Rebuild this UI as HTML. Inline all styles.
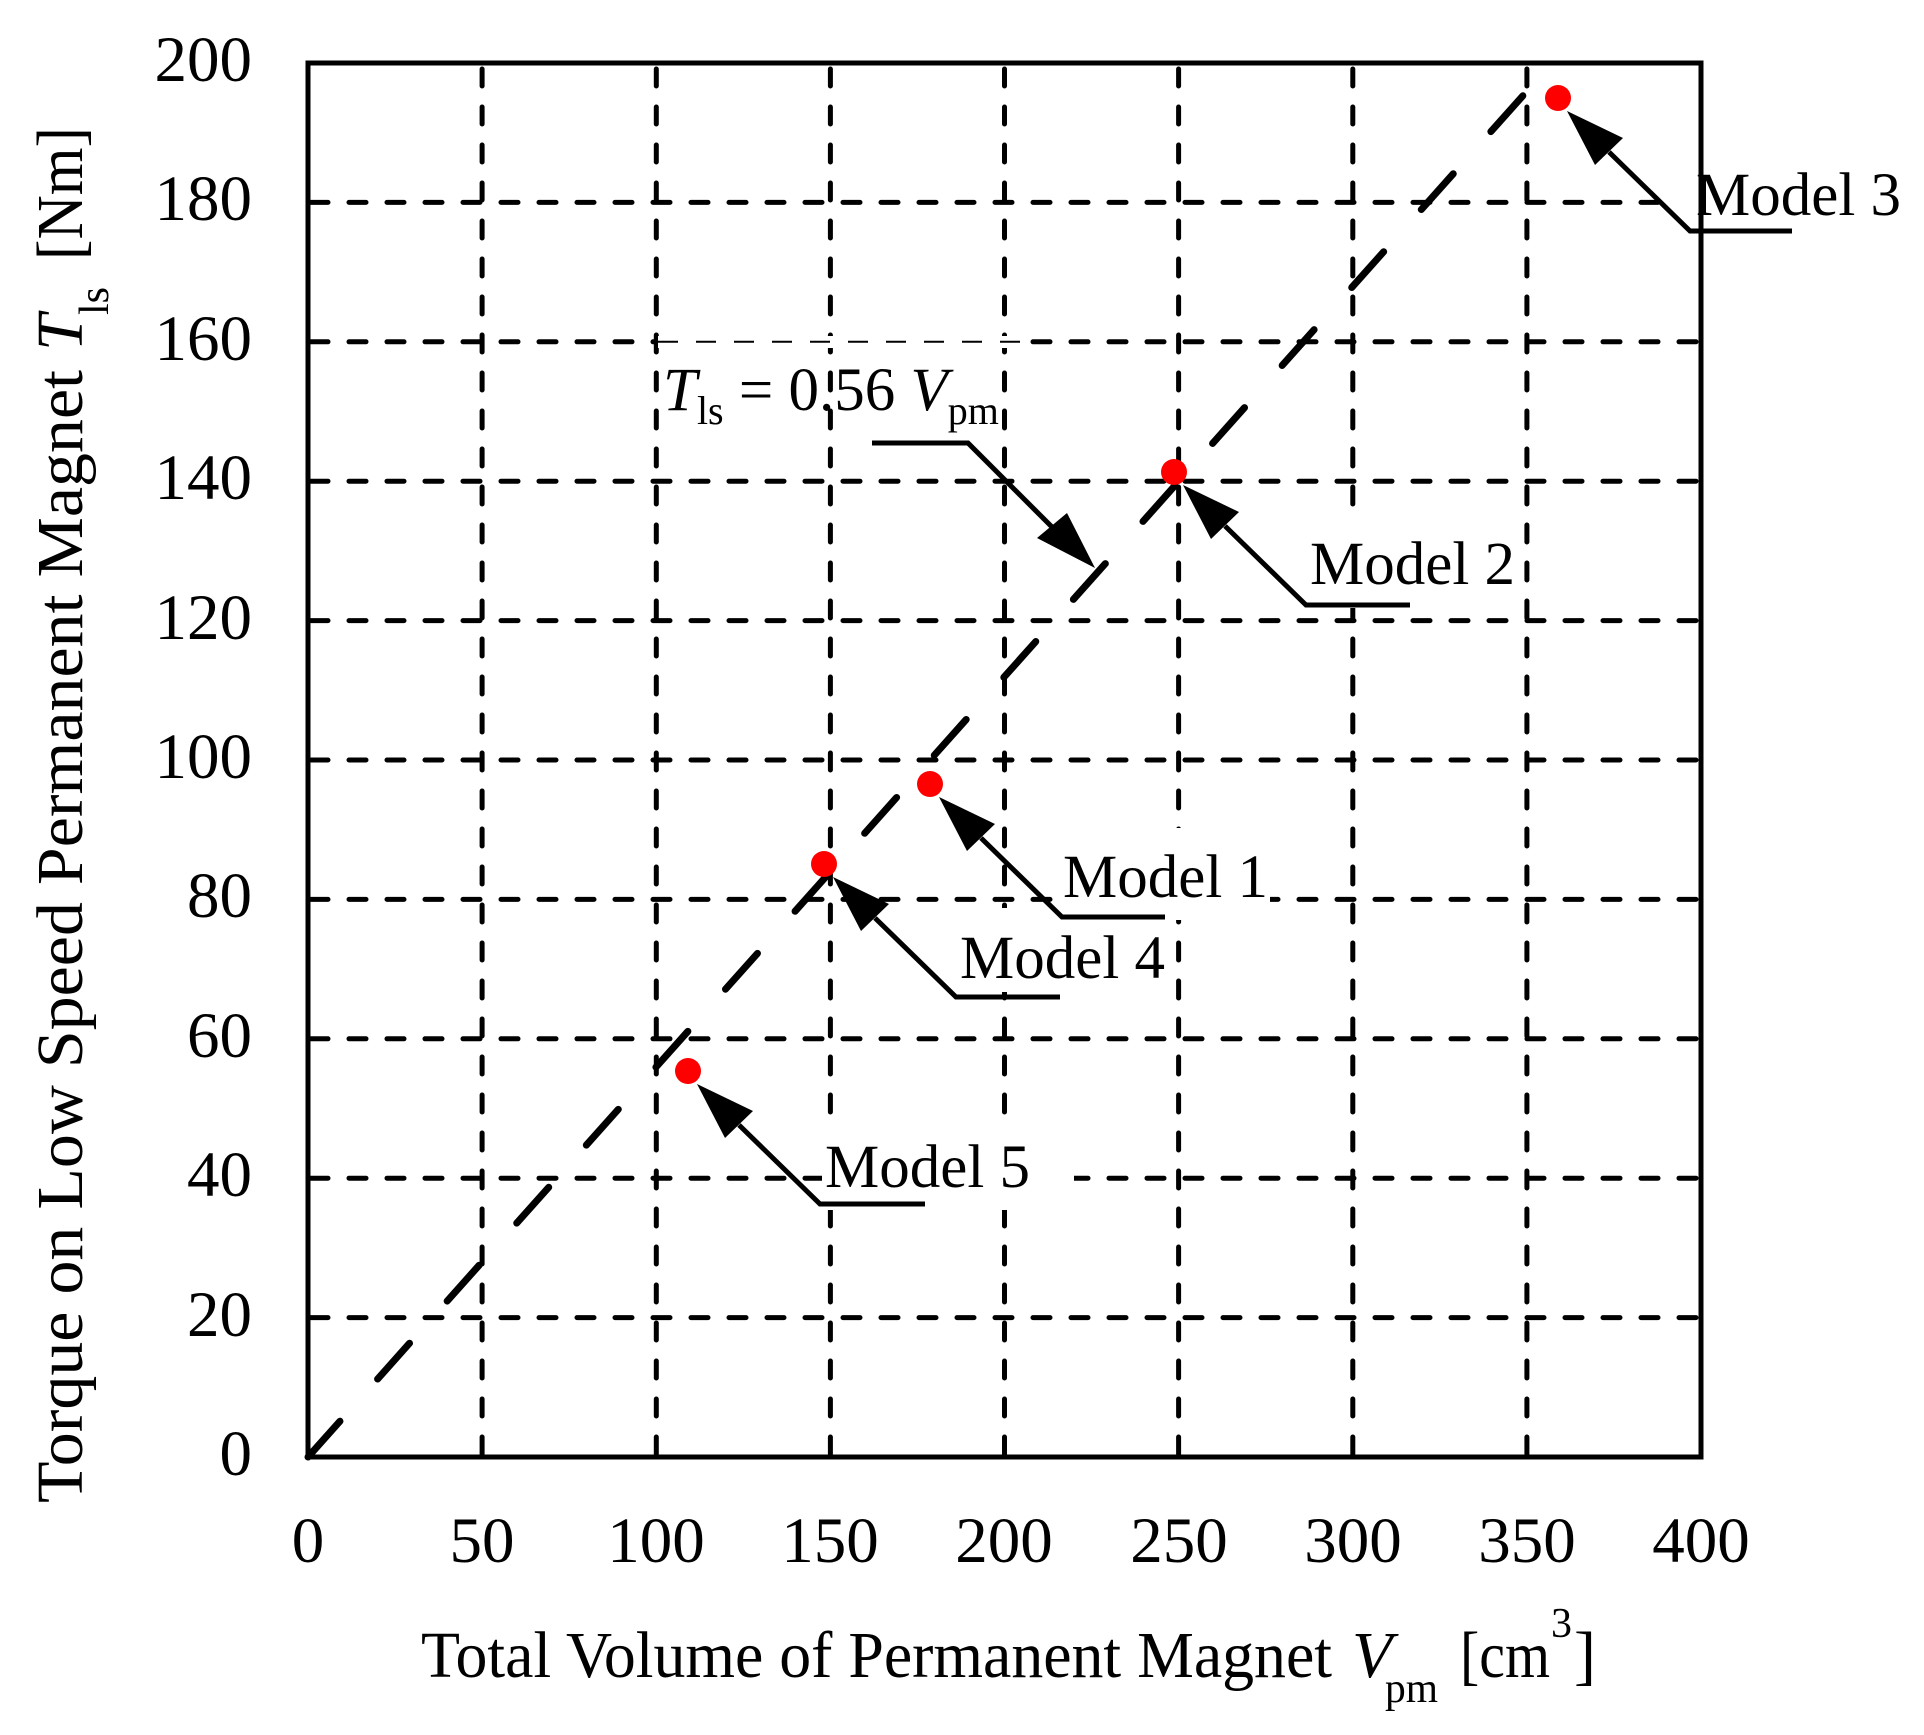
<!DOCTYPE html>
<html><head><meta charset="utf-8"><style>
html,body{margin:0;padding:0;background:#fff;}
svg{display:block;}
text{font-family:"Liberation Serif",serif;fill:#000;}
</style></head><body>
<svg width="1924" height="1735" viewBox="0 0 1924 1735" xmlns="http://www.w3.org/2000/svg">
<rect width="1924" height="1735" fill="#fff"/>
<!-- grid -->
<g stroke="#000" stroke-width="5" stroke-dasharray="17 21" stroke-linecap="round" stroke-dashoffset="-3">
<line x1="308" y1="1317.6" x2="1701" y2="1317.6"/>
<line x1="308" y1="1178.2" x2="1701" y2="1178.2"/>
<line x1="308" y1="1038.8" x2="1701" y2="1038.8"/>
<line x1="308" y1="899.4" x2="1701" y2="899.4"/>
<line x1="308" y1="760" x2="1701" y2="760"/>
<line x1="308" y1="620.6" x2="1701" y2="620.6"/>
<line x1="308" y1="481.2" x2="1701" y2="481.2"/>
<line x1="308" y1="341.8" x2="1701" y2="341.8"/>
<line x1="308" y1="202.4" x2="1701" y2="202.4"/>
<line x1="482.1" y1="1457" x2="482.1" y2="63"/>
<line x1="656.3" y1="1457" x2="656.3" y2="63"/>
<line x1="830.4" y1="1457" x2="830.4" y2="63"/>
<line x1="1004.5" y1="1457" x2="1004.5" y2="63"/>
<line x1="1178.6" y1="1457" x2="1178.6" y2="63"/>
<line x1="1352.8" y1="1457" x2="1352.8" y2="63"/>
<line x1="1526.9" y1="1457" x2="1526.9" y2="63"/>
</g>
<!-- thin part of 160 line -->
<rect x="658" y="336" width="362" height="12" fill="#fff"/>
<line x1="658" y1="341.8" x2="1020" y2="341.8" stroke="#000" stroke-width="2" stroke-dasharray="20 18"/>
<!-- regression line -->
<line x1="308" y1="1457" x2="1528" y2="90" stroke="#000" stroke-width="7" stroke-linecap="round" stroke-dasharray="48 56.5"/>
<!-- label white boxes -->
<g fill="#fff">
<rect x="1672" y="155" width="160" height="88"/>
<rect x="1306" y="520" width="210" height="88"/>
<rect x="1060" y="828" width="210" height="92"/>
<rect x="958" y="908" width="210" height="84"/>
<rect x="822" y="1118" width="252" height="92"/>
</g>
<!-- axes box -->
<rect x="308" y="63" width="1393" height="1394" fill="none" stroke="#000" stroke-width="5"/>
<!-- annotation arrows -->
<g stroke="#000" stroke-width="5" fill="none">
<polyline points="1609,152 1690,231 1792,231"/>
<polyline points="1225,526 1306,605 1410,605"/>
<polyline points="981,838 1062,917 1165,917"/>
<polyline points="875,918 956,997 1060,997"/>
<polyline points="739,1125 820,1204 925,1204"/>
<polyline points="872,443 968,443 1055,530"/>
</g>
<g fill="#000">
<polygon points="1567,111 1595,165 1623,138"/>
<polygon points="1183,485 1211,539 1239,512"/>
<polygon points="939,797 967,851 995,824"/>
<polygon points="833,877 861,931 889,904"/>
<polygon points="697,1084 725,1138 753,1111"/>
<polygon points="1095,568 1037,538 1067,513"/>
</g>
<!-- data points -->
<g fill="#f00">
<circle cx="1558" cy="98" r="13"/>
<circle cx="1174" cy="472" r="13"/>
<circle cx="930" cy="784" r="13"/>
<circle cx="824" cy="864" r="13"/>
<circle cx="688" cy="1071" r="13"/>
</g>
<!-- labels -->
<g font-size="61">
<text x="1696" y="215">Model 3</text>
<text x="1310" y="584">Model 2</text>
<text x="1063" y="897">Model 1</text>
<text x="960" y="978">Model 4</text>
<text x="825" y="1187">Model 5</text>
</g>
<text x="663" y="410" font-size="61"><tspan font-style="italic">T</tspan><tspan font-size="40" dy="14">ls</tspan><tspan dy="-14"> = 0.56 </tspan><tspan font-style="italic">V</tspan><tspan font-size="40" dy="14">pm</tspan></text>
<!-- tick labels -->
<g font-size="65" text-anchor="middle">
<text x="308" y="1562">0</text>
<text x="482" y="1562">50</text>
<text x="656" y="1562">100</text>
<text x="830" y="1562">150</text>
<text x="1004" y="1562">200</text>
<text x="1179" y="1562">250</text>
<text x="1353" y="1562">300</text>
<text x="1527" y="1562">350</text>
<text x="1701" y="1562">400</text>
</g>
<g font-size="65" text-anchor="end">
<text x="252" y="1475">0</text>
<text x="252" y="1336">20</text>
<text x="252" y="1196">40</text>
<text x="252" y="1057">60</text>
<text x="252" y="917">80</text>
<text x="252" y="778">100</text>
<text x="252" y="639">120</text>
<text x="252" y="499">140</text>
<text x="252" y="360">160</text>
<text x="252" y="220">180</text>
<text x="252" y="81">200</text>
</g>
<!-- x title -->
<g font-size="66">
<text x="421" y="1677" textLength="911" lengthAdjust="spacingAndGlyphs">Total Volume of Permanent Magnet</text>
<text x="1352" y="1677" font-style="italic">V</text>
<text x="1385" y="1702" font-size="42" textLength="53" lengthAdjust="spacingAndGlyphs">pm</text>
<text x="1460" y="1677" textLength="90" lengthAdjust="spacingAndGlyphs">[cm</text>
<text x="1551" y="1637" font-size="42">3</text>
<text x="1574" y="1677">]</text>
</g>
<!-- y title -->
<g transform="translate(82,1503) rotate(-90)" font-size="66">
<text x="0" y="0" textLength="1133" lengthAdjust="spacingAndGlyphs">Torque on Low Speed Permanent Magnet</text>
<text x="1152" y="0" font-style="italic">T</text>
<text x="1188" y="26" font-size="42">ls</text>
<text x="1243" y="0" textLength="133" lengthAdjust="spacingAndGlyphs">[Nm]</text>
</g>
</svg>
</body></html>
